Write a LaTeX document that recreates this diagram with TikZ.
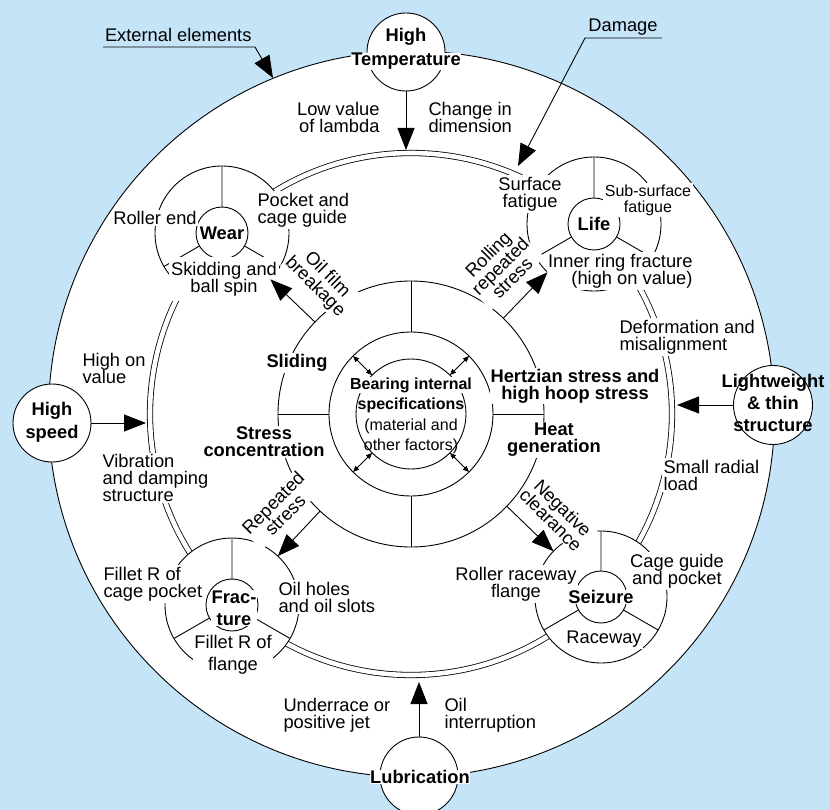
\documentclass[tikz,border=0pt]{standalone}
\usepackage{fontspec}
\setmainfont{Liberation Sans}
\usetikzlibrary{arrows.meta}
\definecolor{bgblue}{RGB}{198,228,248}
\newcommand\myfs{\fontsize{18.3}{17}\selectfont\lineskiplimit=-10pt\lineskip=0pt}
\newcommand\myfsw{\fontsize{18.3}{22}\selectfont\lineskiplimit=-10pt\lineskip=0pt}
\newcommand\mysfs{\fontsize{16}{16}\selectfont\lineskiplimit=-10pt\lineskip=0pt}
\begin{document}
\begin{tikzpicture}[x=1pt,y=-1pt,
  every node/.style={inner sep=0pt, outer sep=0pt},
  lbl/.style={font=\myfs, fill=white, inner sep=1.5pt, align=left},
  lblc/.style={lbl, align=center},
  lblr/.style={lbl, align=right},
  blbl/.style={font=\myfs\bfseries, fill=white, inner sep=1pt, align=center},
  ring/.style={circle, draw, line width=0.9pt, fill=white, inner sep=0pt},
  thinline/.style={line width=0.9pt},
  bigarrow/.style={line width=0.9pt, -{Triangle[length=22pt,width=17pt]}},
  dblarrow/.style={line width=0.8pt, {Triangle[length=6pt,width=5pt]}-{Triangle[length=6pt,width=5pt]}}
]
\useasboundingbox (0,0) rectangle (830,810);
\clip (0,0) rectangle (830,810);
\fill[bgblue] (0,0) rectangle (830,810);
\coordinate (C) at (411,414);
% outer circle
\node[ring, minimum size=726pt] (outer) at (411.5,414) {};
% double ring
\draw[line width=0.8pt, double=white, double distance=4.6pt] (C) circle[radius=261pt];
% central circles
\node[ring, minimum size=266pt] (mid) at (C) {};
\node[ring, minimum size=164pt] (sec) at (C) {};
\node[ring, minimum size=110pt] (core) at (C) {};
\draw[thinline] (sec.north) -- (mid.north) (sec.south) -- (mid.south)
  (sec.west) -- (mid.west) (sec.east) -- (mid.east);
\draw[dblarrow] (core.45) -- (sec.45);
\draw[dblarrow] (core.135) -- (sec.135);
\draw[dblarrow] (core.225) -- (sec.225);
\draw[dblarrow] (core.315) -- (sec.315);
% sub circles
\node[ring, minimum size=134pt] (wearO) at (222,233) {};
\node[ring, minimum size=52pt] (wear) at (222,233) {};
\draw[thinline] (wear.90) -- (wearO.90) (wear.210) -- (wearO.210) (wear.330) -- (wearO.330);
\node[ring, minimum size=134pt] (lifeO) at (594,224) {};
\node[ring, minimum size=52pt] (life) at (594,224) {};
\draw[thinline] (life.90) -- (lifeO.90) (life.210) -- (lifeO.210) (life.330) -- (lifeO.330);
\node[ring, minimum size=134pt] (fracO) at (232,605) {};
\node[ring, minimum size=52pt] (frac) at (232,605) {};
\draw[thinline] (frac.90) -- (fracO.90) (frac.210) -- (fracO.210) (frac.330) -- (fracO.330);
\node[ring, minimum size=132pt] (seizO) at (601,597) {};
\node[ring, minimum size=52pt] (seiz) at (601,597) {};
\draw[thinline] (seiz.90) -- (seizO.90) (seiz.210) -- (seizO.210) (seiz.330) -- (seizO.330);
% labels
\node[lblr, anchor=east] (lowlam) at (381,117) {Low value\\of lambda};
\node[lbl, anchor=west] (chg) at (427,117) {Change in\\dimension};
\node[lblc] (surf) at (530,194) {Surface\\fatigue};
\node[lblc, font=\mysfs] (subs) at (648,200) {Sub-surface\\fatigue};
\node[lblr, anchor=east] (innerfr) at (694,271) {Inner ring fracture\\(high on value)};
\node[lbl, anchor=west] (pocket) at (256,210) {Pocket and\\cage guide};
\node[lbl] (roller) at (155,218) {Roller end};
\node[lblc, inner xsep=2pt, inner ysep=5pt] (skid) at (224,279) {Skidding and\\ball spin};
\node[lblc, rotate=-45] (oilf) at (321,281) {Oil film\\breakage};
\node[lblc, rotate=45] (roll) at (500,266) {Rolling\\repeated\\stress};
\node[lbl, anchor=west] (hov) at (81,368) {High on\\value};
\node[lbl, anchor=west] (vib) at (101,478) {Vibration\\and damping\\structure};
\node[blbl] (slid) at (297,363) {Sliding};
\node[blbl] (strc) at (264,442) {Stress\\concentration};
\node[blbl] (hertz) at (575,386) {Hertzian stress and\\high hoop stress};
\node[blbl] (heat) at (554,440) {Heat\\generation};
\node[lbl, anchor=west] (deform) at (618,337) {Deformation and\\misalignment};
\node[lbl, anchor=west] (small) at (662,475) {Small radial\\load};
\node[lblc, rotate=-45] (neg) at (557,514) {Negative\\clearance};
\node[lblc, rotate=45] (rep) at (279,509) {Repeated\\stress};
\node[lbl, anchor=west] (filc) at (102,584) {Fillet R of\\cage pocket};
\node[lbl, anchor=west] (oilh) at (277,597) {Oil holes\\and oil slots};
\node[lblc, font=\myfsw] (filf) at (233,655) {Fillet R of\\flange};
\node[lblc] (rrf) at (516,584) {Roller raceway\\flange};
\node[lblc] (cgp) at (677,571) {Cage guide\\and pocket};
\node[lbl] (race) at (604,639) {Raceway};
\node[lbl, anchor=west] (under) at (282,715) {Underrace or\\positive jet};
\node[lbl, anchor=west] (oilint) at (443,715) {Oil\\interruption};
% sub circle titles
\node[blbl, inner sep=0.5pt] (wearT) at (222,233) {Wear};
\node[blbl, inner sep=0.5pt] (lifeT) at (594,224) {Life};
\node[blbl, inner sep=0.5pt, font=\myfsw\bfseries] (fracT) at (234,608) {Frac-\\ture};
\node[blbl, inner sep=0.5pt] (seizT) at (601,597) {Seizure};
% core text
\node[font=\mysfs\bfseries, fill=white, inner sep=0.5pt, anchor=base] (b1) at (411,389) {Bearing internal};
\node[font=\mysfs\bfseries, anchor=base] (b2) at (411,409) {specifications};
\node[font=\mysfs, anchor=base] (b3) at (411,430) {(material and};
\node[font=\mysfs, anchor=base] (b4) at (411,450) {other factors)};
% internal arrows
\draw[bigarrow] (mid) -- (wearO);
\draw[bigarrow] (mid) -- (lifeO);
\draw[bigarrow] (mid) -- (fracO);
\draw[bigarrow] (mid) -- (seizO);
% external factors
\node[ring, minimum size=78pt] (ht) at (406,52) {};
\node[font=\myfs\bfseries, anchor=base] (htT1) at (406,41.5) {High};
\node[font=\myfs\bfseries, fill=white, inner sep=0.3pt, anchor=base] (htT2) at (406,65.5) {Temperature};
\node[ring, minimum size=78pt] (hs) at (52,423) {};
\node[font=\fontsize{18.3}{23}\selectfont\bfseries, align=center] (hsT) at (52,422) {High\\speed};
\node[ring, minimum size=79pt] (lw) at (773,405) {};
\node[font=\myfsw\bfseries, align=center] (lwT) at (773,403) {Lightweight\\\& thin\\structure};
\node[ring, minimum size=78pt] (lub) at (419,776) {};
\node[font=\myfs\bfseries, fill=white, inner sep=0.3pt] (lubT) at (420,777) {Lubrication};
\coordinate (htTip) at (406,150);
\coordinate (hsTip) at (146,423);
\coordinate (lwTip) at (677,405);
\coordinate (lubTip) at (419,682);
\draw[bigarrow] (ht) -- (htTip);
\draw[bigarrow] (hs) -- (hsTip);
\draw[bigarrow] (lw) -- (lwTip);
\draw[bigarrow] (lub) -- (lubTip);
% leader labels
\node[font=\myfs, anchor=base west] (ext) at (105,41.5) {External elements};
\coordinate (extA) at (103,47);
\coordinate (extB) at (255,47);
\coordinate (extC) at (273,78);
\draw[bigarrow] (extA) -- (extB) -- (extC);
\node[font=\myfs, anchor=base] (dmg) at (623,31.5) {Damage};
\coordinate (dmA) at (662,38);
\coordinate (dmB) at (585,38);
\coordinate (dmC) at (518,166);
\draw[bigarrow] (dmA) -- (dmB) -- (dmC);
\end{tikzpicture}
\end{document}
